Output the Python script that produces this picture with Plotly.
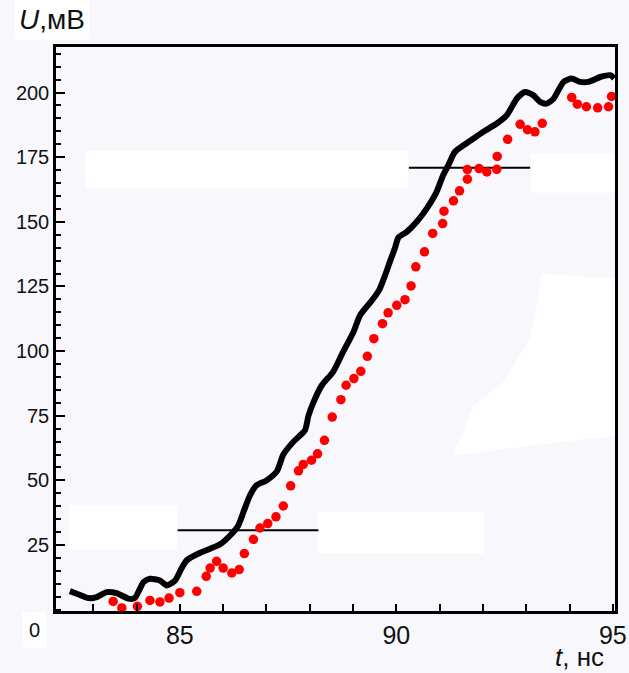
import plotly.graph_objects as go

# Measured voltage trace (solid black line)
black_t = [82.46, 82.65, 82.89, 83.08, 83.31, 83.54, 83.81, 83.96, 84.16, 84.31,
           84.54, 84.70, 84.89, 85.04, 85.16, 85.47, 85.70, 85.93, 86.16, 86.35,
           86.47, 86.62, 86.77, 87.00, 87.24, 87.39, 87.62, 87.89, 87.97, 88.08,
           88.28, 88.54, 88.77, 89.01, 89.16, 89.47, 89.62, 89.74, 89.85, 89.97,
           90.05, 90.24, 90.47, 90.70, 90.93, 91.08, 91.20, 91.35, 91.55, 91.78,
           92.01, 92.32, 92.55, 92.78, 92.97, 93.16, 93.32, 93.47, 93.63, 93.86,
           94.05, 94.24, 94.43, 94.71, 94.94, 95.03]
black_u = [7.2, 6.0, 4.5, 4.9, 6.8, 6.4, 4.3, 4.5, 10.7, 12.0,
           11.3, 9.4, 11.3, 16.0, 19.1, 22.0, 23.6, 25.3, 28.7, 32.6,
           37.8, 44.2, 48.1, 50.0, 53.5, 60.0, 64.9, 69.4, 75.0, 80.0,
           86.8, 92.0, 99.7, 107.4, 113.8, 120.3, 124.2, 129.3, 134.5, 140.0,
           144.0, 146.1, 150.0, 155.1, 161.6, 168.0, 171.9, 177.0, 179.6, 182.2,
           184.8, 188.0, 191.2, 197.6, 200.2, 199.0, 196.4, 195.7, 197.6, 204.1,
           205.4, 204.1, 204.1, 206.0, 206.7, 205.5]

# Computed points (red dots)
red_t = [83.46, 83.66, 84.02, 84.31, 84.54, 84.75, 85.00, 85.39, 85.61, 85.70,
         85.85, 86.00, 86.20, 86.37, 86.49, 86.70, 86.85, 87.03, 87.22, 87.39,
         87.56, 87.74, 87.85, 88.04, 88.18, 88.34, 88.52, 88.72, 88.84, 89.02,
         89.18, 89.33, 89.48, 89.68, 89.81, 90.01, 90.20, 90.34, 90.45, 90.65,
         90.84, 91.07, 91.10, 91.32, 91.46, 91.64, 91.64, 91.91, 92.09, 92.32,
         92.33, 92.57, 92.86, 93.03, 93.20, 93.37, 94.05, 94.18, 94.39, 94.65,
         94.90, 94.97]
red_u = [3.2, 0.7, 1.3, 3.6, 3.0, 4.5, 6.6, 7.1, 12.9, 16.1,
         18.7, 16.1, 14.2, 15.5, 21.7, 27.2, 31.6, 33.3, 35.9, 40.1,
         47.9, 53.7, 56.2, 57.8, 60.3, 65.5, 74.5, 81.2, 86.8, 89.4,
         92.2, 98.0, 104.8, 110.6, 114.8, 117.7, 119.9, 125.2, 132.6, 138.4,
         145.5, 149.3, 154.1, 158.1, 162.0, 166.5, 170.2, 170.6, 169.3, 170.3,
         175.3, 181.9, 187.7, 185.6, 184.8, 188.1, 198.1, 195.5, 194.5, 194.1,
         194.5, 198.5]

# Reference levels (10 % and 90 %) with their time spans
level_lo_t = [84.95, 88.20]
level_lo_u = [30.7, 30.7]
level_hi_t = [90.29, 93.09]
level_hi_u = [170.9, 170.9]

x_ticks = list(range(83, 96))
x_labels = [str(v) if v in (85, 90, 95) else "" for v in x_ticks]
y_ticks = [25, 50, 75, 100, 125, 150, 175, 200]
y_labels = [str(v) for v in y_ticks]

BG = "#f8f8fc"
FONT = "Liberation Sans, Arial, sans-serif"

fig = go.Figure()

fig.add_trace(go.Scatter(x=level_lo_t, y=level_lo_u, mode="lines",
                         line=dict(color="black", width=2), hoverinfo="skip"))
fig.add_trace(go.Scatter(x=level_hi_t, y=level_hi_u, mode="lines",
                         line=dict(color="black", width=2), hoverinfo="skip"))
fig.add_trace(go.Scatter(x=black_t, y=black_u, mode="lines",
                         line=dict(color="black", width=6, shape="spline", smoothing=0.6)))
fig.add_trace(go.Scatter(x=red_t, y=red_u, mode="markers",
                         marker=dict(color="#ff0000", size=9.5, line=dict(width=0))))

# light patches in the plot background
patches = [
    (82.83, 90.27, 163.2, 177.6),
    (93.11, 95.03, 161.3, 176.4),
    (82.44, 84.93, 23.6, 40.6),
    (88.19, 92.02, 21.7, 37.9),
]
shapes = []
for x0, x1, y0, y1 in patches:
    shapes.append(dict(type="rect", xref="x", yref="y", x0=x0, x1=x1, y0=y0, y1=y1,
                       fillcolor="white", line=dict(width=0), layer="below"))
poly = [(93.36, 130.0), (95.05, 128.0), (95.05, 67.4), (91.32, 59.7),
        (91.78, 79.0), (92.47, 88.1), (93.09, 104.8), (93.28, 120.3)]
path = "M " + " L ".join(f"{px},{py}" for px, py in poly) + " Z"
shapes.append(dict(type="path", xref="x", yref="y", path=path,
                   fillcolor="white", line=dict(width=0), layer="below"))

fig.update_layout(
    width=629, height=673,
    margin=dict(l=56, r=14, t=47, b=62, autoexpand=False),
    paper_bgcolor=BG, plot_bgcolor=BG,
    showlegend=False,
    font=dict(family=FONT, color="#111111"),
    shapes=shapes,
    xaxis=dict(
        range=[82.14, 95.05], showgrid=False, zeroline=False, automargin=False,
        showline=True, linecolor="black", linewidth=2.5, mirror=True,
        ticks="inside", ticklen=7, tickwidth=2, tickcolor="black",
        tickvals=x_ticks, ticktext=x_labels,
        tickfont=dict(size=25, family=FONT, color="#111111"),
    ),
    yaxis=dict(
        range=[-0.5, 217.6], showgrid=False, zeroline=False, automargin=False,
        showline=True, linecolor="black", linewidth=2.5, mirror=True,
        ticks="inside", ticklen=9, tickwidth=2, tickcolor="black",
        tickvals=y_ticks, ticktext=y_labels,
        tickfont=dict(size=20, family=FONT, color="#111111"),
        minor=dict(dtick=5, tick0=0, ticks="inside", ticklen=5, tickwidth=2,
                   tickcolor="black", showgrid=False),
    ),
    annotations=[
        dict(text="<i>U</i>,мВ", xref="paper", yref="paper",
             x=-0.075, y=1.048, xanchor="left", yanchor="middle", showarrow=False,
             font=dict(size=28, family=FONT, color="#111111"),
             bgcolor="white", borderpad=4),
        dict(text="<i>t</i>, нс", xref="paper", yref="paper",
             x=0.984, y=-0.082, xanchor="right", yanchor="middle", showarrow=False,
             font=dict(size=26, family=FONT, color="#111111")),
        dict(text="0", xref="paper", yref="paper",
             x=-0.0376, y=-0.0337, xanchor="center", yanchor="middle", showarrow=False,
             font=dict(size=20, family=FONT, color="#111111"),
             bgcolor="white", borderpad=6),
    ],
)

fig.write_html("out.html")
